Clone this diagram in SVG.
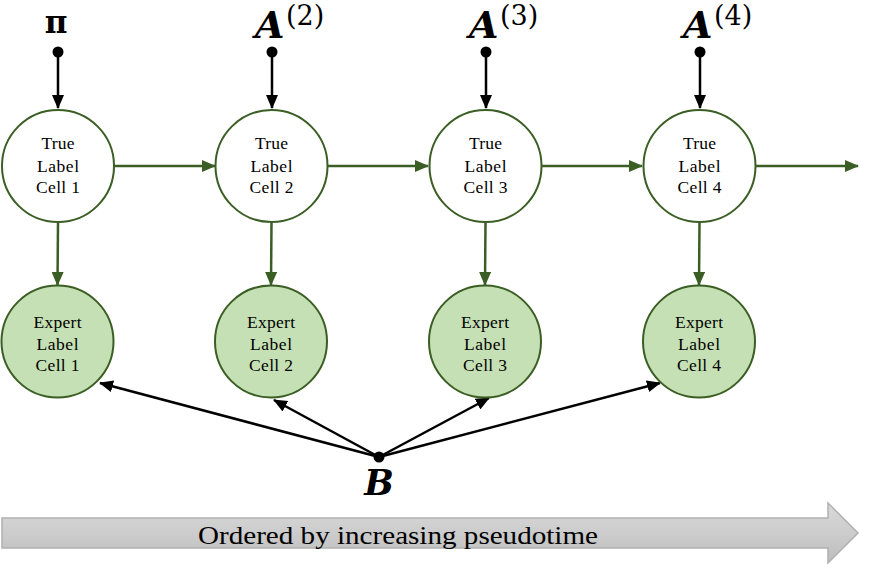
<svg xmlns="http://www.w3.org/2000/svg" width="872" height="569" viewBox="0 0 872 569">
<defs>
<style>
.true{fill:#ffffff;stroke:#3b5e24;stroke-width:2}
.exp{fill:#c5e0b4;stroke:#3b5e24;stroke-width:2}
.lbl{font-family:'Liberation Serif','DejaVu Serif',serif;font-size:17.5px;fill:#000;text-anchor:middle}
.g{stroke:#3b5e24;stroke-width:2.5;fill:none}
.k{stroke:#000;stroke-width:2.5;fill:none}
.math{font-family:'DejaVu Serif',serif;fill:#000}
.sup{font-family:'DejaVu Serif',serif;fill:#000;font-size:27px}
</style>
<marker id="ag" markerUnits="userSpaceOnUse" markerWidth="14" markerHeight="12" refX="13" refY="6" orient="auto" viewBox="0 0 14 12">
<path d="M0,0 L14,6 L0,12 z" fill="#3b5e24"/>
</marker>
<marker id="ak" markerUnits="userSpaceOnUse" markerWidth="14" markerHeight="12" refX="13" refY="6" orient="auto" viewBox="0 0 14 12">
<path d="M0,0 L14,6 L0,12 z" fill="#000"/>
</marker>
<linearGradient id="bar" x1="0" y1="0" x2="0" y2="1">
<stop offset="0" stop-color="#dadada"/>
<stop offset="1" stop-color="#bebebe"/>
</linearGradient>
</defs>

<g id="connectors">
<line class="k" x1="58" y1="52" x2="58" y2="108" marker-end="url(#ak)"/>
<line class="k" x1="272" y1="52" x2="272" y2="108" marker-end="url(#ak)"/>
<line class="k" x1="486" y1="52" x2="486" y2="108" marker-end="url(#ak)"/>
<line class="k" x1="700" y1="52" x2="700" y2="108" marker-end="url(#ak)"/>
<line class="g" x1="114" y1="166" x2="215" y2="166" marker-end="url(#ag)"/>
<line class="g" x1="328" y1="166" x2="428" y2="166" marker-end="url(#ag)"/>
<line class="g" x1="542" y1="166" x2="642" y2="166" marker-end="url(#ag)"/>
<line class="g" x1="756" y1="166" x2="858" y2="166" marker-end="url(#ag)"/>
<line class="g" x1="58" y1="223" x2="57.5" y2="285" marker-end="url(#ag)"/>
<line class="g" x1="271.5" y1="223" x2="271" y2="285" marker-end="url(#ag)"/>
<line class="g" x1="485.5" y1="223" x2="485" y2="285" marker-end="url(#ag)"/>
<line class="g" x1="699.5" y1="223" x2="699" y2="285" marker-end="url(#ag)"/>
<line class="k" x1="379" y1="457" x2="100" y2="383" marker-end="url(#ak)"/>
<line class="k" x1="379" y1="457" x2="274" y2="400" marker-end="url(#ak)"/>
<line class="k" x1="379" y1="457" x2="489" y2="398" marker-end="url(#ak)"/>
<line class="k" x1="379" y1="457" x2="660" y2="383" marker-end="url(#ak)"/>
<circle cx="58" cy="52" r="5.5" fill="#000"/>
<circle cx="272" cy="52" r="5.5" fill="#000"/>
<circle cx="486" cy="52" r="5.5" fill="#000"/>
<circle cx="700" cy="52" r="5.5" fill="#000"/>
<circle cx="379" cy="457" r="5.5" fill="#000"/>
</g>

<g id="param-pi"><text class="math" x="56" y="33" font-size="31" font-weight="bold" text-anchor="middle">π</text></g>
<g id="param-A2"><text class="math" x="255" y="38" font-size="38" font-weight="bold" font-style="italic">A</text><text class="sup" x="286" y="25">(2)</text></g>
<g id="param-A3"><text class="math" x="469" y="38" font-size="38" font-weight="bold" font-style="italic">A</text><text class="sup" x="500" y="25">(3)</text></g>
<g id="param-A4"><text class="math" x="683" y="38" font-size="38" font-weight="bold" font-style="italic">A</text><text class="sup" x="714" y="25">(4)</text></g>
<g id="param-B"><text class="math" x="379" y="495" font-size="35" font-style="italic" font-weight="600" text-anchor="middle">B</text></g>

<g id="true1"><circle class="true" cx="58" cy="166" r="56"/><text class="lbl" x="58" y="149" textLength="33">True</text><text class="lbl" x="58" y="172" textLength="42">Label</text><text class="lbl" x="58" y="193" textLength="44">Cell 1</text></g>
<g id="true2"><circle class="true" cx="271.5" cy="166" r="56"/><text class="lbl" x="271.5" y="149" textLength="33">True</text><text class="lbl" x="271.5" y="172" textLength="42">Label</text><text class="lbl" x="271.5" y="193" textLength="44">Cell 2</text></g>
<g id="true3"><circle class="true" cx="485.5" cy="166" r="56"/><text class="lbl" x="485.5" y="149" textLength="33">True</text><text class="lbl" x="485.5" y="172" textLength="42">Label</text><text class="lbl" x="485.5" y="193" textLength="44">Cell 3</text></g>
<g id="true4"><circle class="true" cx="699.5" cy="166" r="56"/><text class="lbl" x="699.5" y="149" textLength="33">True</text><text class="lbl" x="699.5" y="172" textLength="42">Label</text><text class="lbl" x="699.5" y="193" textLength="44">Cell 4</text></g>

<g id="expert1"><circle class="exp" cx="57.5" cy="341.5" r="56"/><text class="lbl" x="57.5" y="328" textLength="48">Expert</text><text class="lbl" x="57.5" y="350" textLength="42">Label</text><text class="lbl" x="57.5" y="371" textLength="44">Cell 1</text></g>
<g id="expert2"><circle class="exp" cx="271" cy="341.5" r="56"/><text class="lbl" x="271" y="328" textLength="48">Expert</text><text class="lbl" x="271" y="350" textLength="42">Label</text><text class="lbl" x="271" y="371" textLength="44">Cell 2</text></g>
<g id="expert3"><circle class="exp" cx="485" cy="341.5" r="56"/><text class="lbl" x="485" y="328" textLength="48">Expert</text><text class="lbl" x="485" y="350" textLength="42">Label</text><text class="lbl" x="485" y="371" textLength="44">Cell 3</text></g>
<g id="expert4"><circle class="exp" cx="699" cy="341.5" r="56"/><text class="lbl" x="699" y="328" textLength="48">Expert</text><text class="lbl" x="699" y="350" textLength="42">Label</text><text class="lbl" x="699" y="371" textLength="44">Cell 4</text></g>

<g id="timeline">
<polygon points="2,518 828,518 828,503 858,533 828,563 828,548 2,548" fill="url(#bar)" stroke="#b0b0b0" stroke-width="1.5"/>
<text x="198" y="544" font-family="'Liberation Serif','DejaVu Serif',serif" font-size="26" textLength="400" lengthAdjust="spacingAndGlyphs">Ordered by increasing pseudotime</text>
</g>
</svg>
